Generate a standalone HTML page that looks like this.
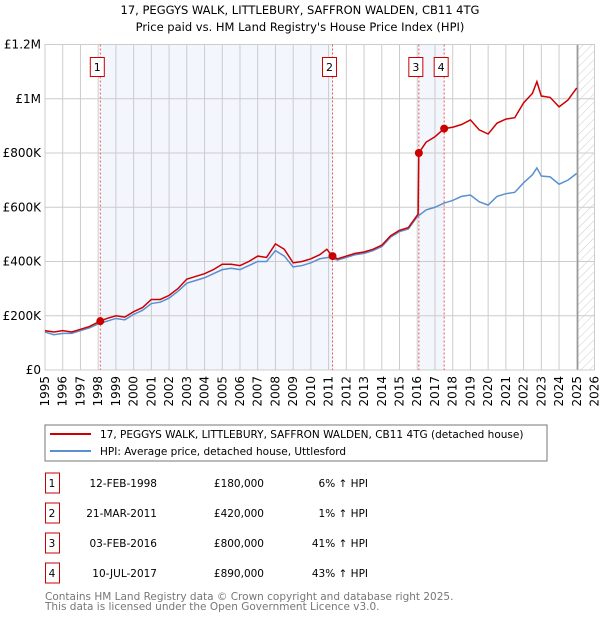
<!DOCTYPE html>
<html><head><meta charset="utf-8"><style>
body{margin:0;background:#fff;font-family:"DejaVu Sans","Liberation Sans",sans-serif;}
svg text{font-family:"DejaVu Sans","Liberation Sans",sans-serif;}
</style></head><body>
<svg id="c" width="600" height="620" xmlns="http://www.w3.org/2000/svg">
<defs><pattern id="hatch" width="6" height="6" patternUnits="userSpaceOnUse" patternTransform="rotate(45)"><line x1="0" y1="0" x2="0" y2="6" stroke="#ccc" stroke-width="1"/></pattern></defs>
<text x="300" y="14" text-anchor="middle" font-size="11.5">17, PEGGYS WALK, LITTLEBURY, SAFFRON WALDEN, CB11 4TG</text>
<text x="300" y="31" text-anchor="middle" font-size="11.5">Price paid vs. HM Land Registry's House Price Index (HPI)</text>
<g id="plot"></g>
<rect x="45" y="425" width="502" height="36" fill="#fff" stroke="#777"/>
<line x1="50" y1="434" x2="91" y2="434" stroke="#cc0000" stroke-width="2"/>
<text x="100" y="438" font-size="10.5">17, PEGGYS WALK, LITTLEBURY, SAFFRON WALDEN, CB11 4TG (detached house)</text>
<line x1="50" y1="451" x2="91" y2="451" stroke="#5b8fd0" stroke-width="2"/>
<text x="100" y="455" font-size="10.5">HPI: Average price, detached house, Uttlesford</text>
<g id="tbl" font-size="10.5"></g>
<text x="45" y="600" font-size="10.5" fill="#777">Contains HM Land Registry data © Crown copyright and database right 2025.</text>
<text x="45" y="610" font-size="10.5" fill="#777">This data is licensed under the Open Government Licence v3.0.</text>
</svg>
<script>
const hpiYears=[1995,1995.5,1996,1996.5,1997,1997.5,1998,1998.5,1999,1999.5,2000,2000.5,2001,2001.5,2002,2002.5,2003,2003.5,2004,2004.5,2005,2005.5,2006,2006.5,2007,2007.5,2008,2008.5,2009,2009.5,2010,2010.5,2011,2011.5,2012,2012.5,2013,2013.5,2014,2014.5,2015,2015.5,2016,2016.5,2017,2017.5,2018,2018.5,2019,2019.5,2020,2020.5,2021,2021.5,2022,2022.5,2022.75,2023,2023.5,2024,2024.5,2025];
const hpiValues=[140,130,135,135,145,155,170,180,190,185,205,220,245,250,265,290,320,330,340,355,370,375,370,385,400,400,440,420,380,385,395,410,415,405,415,425,430,440,455,490,510,520,565,590,600,615,625,640,645,620,608,640,650,655,690,720,745,715,712,685,700,725];
const redYears=[1995,1995.5,1996,1996.5,1997,1997.5,1998.1,1998.5,1999,1999.5,2000,2000.5,2001,2001.5,2002,2002.5,2003,2003.5,2004,2004.5,2005,2005.5,2006,2006.5,2007,2007.5,2008,2008.5,2009,2009.5,2010,2010.5,2010.9,2011.2,2011.5,2012,2012.5,2013,2013.5,2014,2014.5,2015,2015.5,2016.05,2016.09,2016.5,2017,2017.52,2018,2018.5,2019,2019.5,2020,2020.5,2021,2021.5,2022,2022.5,2022.75,2023,2023.5,2024,2024.5,2025];
const redValues=[145,140,145,140,150,160,180,190,200,195,215,230,260,260,275,300,335,345,355,370,390,390,385,400,420,415,465,445,395,400,410,425,445,420,410,420,430,435,445,460,495,515,525,575,800,840,860,890,895,905,922,885,870,910,925,930,985,1020,1063,1010,1005,970,995,1040];
const saleYears=[1998.12,2011.22,2016.09,2017.52];
const saleValues=[180,420,800,890];
const saleLabels=["1","2","3","4"];
const saleDates=["12-FEB-1998","21-MAR-2011","03-FEB-2016","10-JUL-2017"];
const salePrices=["£180,000","£420,000","£800,000","£890,000"];
const saleHpi=["6% ↑ HPI","1% ↑ HPI","41% ↑ HPI","43% ↑ HPI"];
const yTicks=[0,200,400,600,800,1000,1200];
const yTickLabels=["£0","£200K","£400K","£600K","£800K","£1M","£1.2M"];
const xTicks=[];for(let y=1995;y<=2026;y++)xTicks.push(y);

const X0=45,X1=594.5,Y0=370,Y1=44.5;
const xs=v=>X0+(v-1995)/(2026-1995)*(X1-X0);
const ys=v=>Y0-v/1200*(Y0-Y1);
const NS="http://www.w3.org/2000/svg";
const plot=document.getElementById('plot');
function mk(tag,attrs,parent){const e=document.createElementNS(NS,tag);for(const k in attrs)e.setAttribute(k,attrs[k]);(parent||plot).appendChild(e);return e;}

let e=mk('rect',{x:X0,y:Y1,width:X1-X0,height:Y0-Y1,fill:'#fff'});


e=mk('rect',{x:xs(saleYears[0]),y:Y1,width:xs(saleYears[1])-xs(saleYears[0]),height:Y0-Y1,fill:'#f3f6fd'});


e=mk('rect',{x:xs(saleYears[2]),y:Y1,width:xs(saleYears[3])-xs(saleYears[2]),height:Y0-Y1,fill:'#f3f6fd'});


e=mk('rect',{x:xs(2025.05),y:Y1,width:X1-xs(2025.05),height:Y0-Y1,fill:'url(#hatch)'});


xTicks.forEach(t=>{
  let l=mk('line',{x1:xs(t),x2:xs(t),y1:Y1,y2:Y0,stroke:'#ccc','stroke-width':1});
  
  
  let tx=mk('text',{x:0,y:0,'font-size':12,'text-anchor':'end',transform:`translate(${xs(t)+4},${Y0+6}) rotate(-90)`});
  tx.textContent=t;
  
  
});
yTicks.forEach((t,i)=>{
  let l=mk('line',{x1:X0,x2:X1,y1:ys(t),y2:ys(t),stroke:'#ccc','stroke-width':1});
  
  
  let tx=mk('text',{x:X0-4,y:ys(t)+4,'font-size':12,'text-anchor':'end'});
  tx.textContent=yTickLabels[i];
  
  
});
e=mk('line',{x1:xs(2025.05),x2:xs(2025.05),y1:Y1,y2:Y0,stroke:'#999','stroke-width':1.5});


e=mk('rect',{x:X0,y:Y1,width:X1-X0,height:Y0-Y1,fill:'none',stroke:'#ccc'});


saleYears.forEach((s,i)=>{
  let l=mk('line',{x1:xs(s),x2:xs(s),y1:Y1,y2:Y0,stroke:'#e55','stroke-width':1,'stroke-dasharray':'2,2'});
  
  
  const bx=xs(s)-10;
  let r=mk('rect',{x:bx,y:57.5,width:14,height:19,fill:'#fff',stroke:'#cc0000'});
  
  
  let t=mk('text',{x:bx+7,y:71,'font-size':11,'text-anchor':'middle'});
  t.textContent=saleLabels[i];
  
  
});
e=mk('polyline',{points:hpiYears.map((y,i)=>xs(y)+','+ys(hpiValues[i])).join(' '),fill:'none',stroke:'#5b8fd0','stroke-width':1.5});


e=mk('polyline',{points:redYears.map((y,i)=>xs(y)+','+ys(redValues[i])).join(' '),fill:'none',stroke:'#cc0000','stroke-width':1.5});


saleYears.forEach((s,i)=>{
  let c=mk('circle',{cx:xs(s),cy:ys(saleValues[i]),r:4,fill:'#cc0000'});
  
  
});
const tbl=document.getElementById('tbl');
saleYears.forEach((s,i)=>{
  const yy=483+i*30;
  let r=mk('rect',{x:45.5,y:yy-10,width:14,height:20,fill:'#fff',stroke:'#cc0000'},tbl);
  
  
  const cells=[[52,saleLabels[i],'middle'],[157,saleDates[i],'end'],[264,salePrices[i],'end'],[368,saleHpi[i],'end']];
  cells.forEach(c=>{
    let t=mk('text',{x:c[0],y:yy+4,'text-anchor':c[2]},tbl);
    t.textContent=c[1];
    
    
  });
});
</script>
</body></html>
